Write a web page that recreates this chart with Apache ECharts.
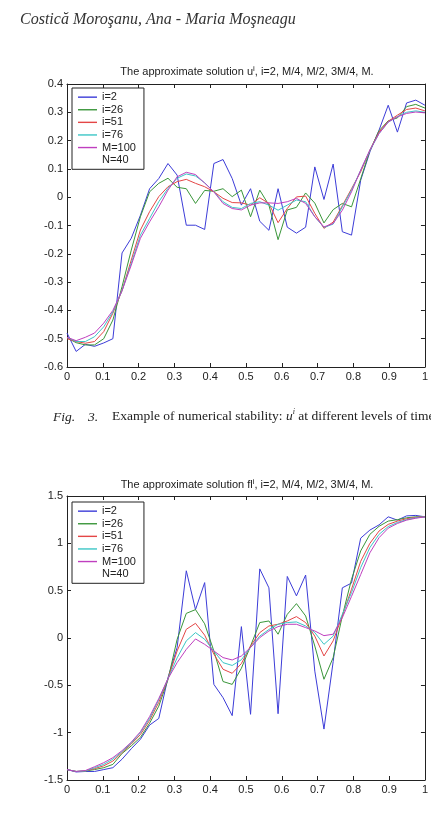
<!DOCTYPE html>
<html><head><meta charset="utf-8">
<script src="https://cdn.jsdelivr.net/npm/echarts@6/dist/echarts.min.js"></script>
<style>html,body{margin:0;padding:0;background:#fff}#c{width:431px;height:821px}</style>
</head><body><div id="c"></div>
<script>
// mesh nodes (N = 40 nodes on [0,1])
const xNodes = [0, 0.0256, 0.0513, 0.0769, 0.1026, 0.1282, 0.1538, 0.1795, 0.2051, 0.2308,
  0.2564, 0.2821, 0.3077, 0.3333, 0.359, 0.3846, 0.4103, 0.4359, 0.4615, 0.4872,
  0.5128, 0.5385, 0.5641, 0.5897, 0.6154, 0.641, 0.6667, 0.6923, 0.7179, 0.7436,
  0.7692, 0.7949, 0.8205, 0.8462, 0.8718, 0.8974, 0.9231, 0.9487, 0.9744, 1];
const seriesNames = ['i=2', 'i=26', 'i=51', 'i=76', 'M=100'];
const legendExtra = 'N=40';
const titleTop = 'The approximate solution u{s|i}, i=2, M/4, M/2, 3M/4, M.';
const titleBottom = 'The approximate solution fl{s|i}, i=2, M/4, M/2, 3M/4, M.';
const headerText = 'Costică Moroşanu, Ana - Maria Moşneagu';

// chart 1: u^i
const uI2 = [-0.48, -0.545, -0.52, -0.527, -0.515, -0.50, -0.197, -0.145, -0.064, 0.03,
  0.066, 0.119, 0.078, -0.099, -0.099, -0.114, 0.119, 0.133, 0.066, -0.028,
  0.03, -0.085, -0.117, 0.03, -0.106, -0.127, -0.106, 0.107, -0.008, 0.117,
  -0.122, -0.134, 0.06, 0.16, 0.237, 0.325, 0.23, 0.333, 0.343, 0.325];
const uI26 = [-0.497, -0.514, -0.522, -0.522, -0.50, -0.434, -0.316, -0.187, -0.069, 0.019,
  0.049, 0.067, 0.035, 0.03, -0.022, 0.024, 0.021, 0.03, 0.002, 0.025,
  -0.069, 0.025, -0.028, -0.15, -0.045, -0.036, 0.015, -0.021, -0.091, -0.044,
  -0.022, -0.034, 0.065, 0.165, 0.235, 0.27, 0.28, 0.32, 0.328, 0.315];
const uI51 = [-0.5, -0.51, -0.516, -0.51, -0.475, -0.41, -0.33, -0.222, -0.116, -0.051,
  0.002, 0.037, 0.055, 0.063, 0.049, 0.037, 0.019, -0.004, -0.019, -0.02,
  -0.028, -0.002, -0.022, -0.09, -0.04, 0.001, 0.004, -0.057, -0.11, -0.088,
  -0.03, 0.03, 0.09, 0.165, 0.23, 0.268, 0.29, 0.31, 0.315, 0.305];
const uI76 = [-0.495, -0.51, -0.51, -0.493, -0.458, -0.405, -0.33, -0.233, -0.134, -0.075,
  -0.016, 0.031, 0.067, 0.082, 0.075, 0.051, 0.019, -0.016, -0.036, -0.04,
  -0.022, -0.016, -0.028, -0.046, -0.028, -0.01, -0.016, -0.069, -0.107, -0.095,
  -0.034, 0.025, 0.095, 0.165, 0.225, 0.265, 0.285, 0.3, 0.305, 0.3];
const uM100 = [-0.495, -0.507, -0.495, -0.48, -0.445, -0.4, -0.33, -0.24, -0.145, -0.087,
  -0.034, 0.025, 0.072, 0.088, 0.08, 0.05, 0.019, -0.022, -0.04, -0.045,
  -0.028, -0.02, -0.02, -0.022, -0.016, -0.004, -0.022, -0.069, -0.105, -0.093,
  -0.046, 0.019, 0.096, 0.167, 0.225, 0.266, 0.284, 0.296, 0.301, 0.298];

// chart 2: fl^i
const flI2 = [-1.39, -1.415, -1.41, -1.41, -1.39, -1.37, -1.28, -1.17, -1.07, -0.92,
  -0.85, -0.42, -0.1, 0.71, 0.30, 0.585, -0.49, -0.63, -0.82, 0.12,
  -0.806, 0.73, 0.53, -0.8, 0.65, 0.445, 0.665, -0.35, -0.962, -0.25,
  0.53, 0.58, 1.055, 1.14, 1.195, 1.28, 1.245, 1.29, 1.295, 1.28];
const flI26 = [-1.39, -1.41, -1.405, -1.39, -1.37, -1.335, -1.22, -1.14, -1.05, -0.9,
  -0.72, -0.44, -0.014, 0.26, 0.30, 0.15, -0.137, -0.46, -0.49, -0.32,
  -0.085, 0.163, 0.18, 0.04, 0.25, 0.363, 0.233, -0.085, -0.436, -0.207,
  0.233, 0.62, 0.92, 1.095, 1.18, 1.235, 1.25, 1.27, 1.28, 1.28];
const flI51 = [-1.39, -1.41, -1.405, -1.38, -1.35, -1.3, -1.21, -1.12, -1.02, -0.87,
  -0.68, -0.43, -0.137, 0.092, 0.155, 0.03, -0.17, -0.33, -0.373, -0.27,
  -0.085, 0.057, 0.127, 0.145, 0.18, 0.226, 0.163, 0.02, -0.19, -0.03,
  0.233, 0.515, 0.81, 1.0, 1.13, 1.2, 1.235, 1.26, 1.275, 1.28];
const flI76 = [-1.39, -1.41, -1.405, -1.37, -1.335, -1.28, -1.2, -1.11, -1.0, -0.85,
  -0.65, -0.43, -0.21, -0.03, 0.057, -0.014, -0.137, -0.26, -0.29, -0.23,
  -0.1, 0.02, 0.09, 0.145, 0.163, 0.17, 0.127, 0.057, -0.067, 0.02,
  0.25, 0.48, 0.744, 0.955, 1.095, 1.177, 1.22, 1.25, 1.27, 1.28];
const flM100 = [-1.39, -1.41, -1.40, -1.36, -1.317, -1.264, -1.19, -1.10, -0.99, -0.83,
  -0.64, -0.43, -0.26, -0.12, -0.01, -0.067, -0.137, -0.207, -0.232, -0.19,
  -0.1, 0.004, 0.074, 0.12, 0.145, 0.145, 0.11, 0.074, 0.025, 0.04,
  0.215, 0.44, 0.67, 0.9, 1.06, 1.16, 1.21, 1.245, 1.265, 1.28];

const colors = ['#3c3cd8', '#3a963a', '#e44646', '#3cc6c6', '#bf3fbf'];
const FONT = 'Liberation Sans';
const chart = echarts.init(document.getElementById('c'), null, {renderer: 'canvas'});

const topData = [uI2, uI26, uI51, uI76, uM100];
const botData = [flI2, flI26, flI51, flI76, flM100];

function xAxes(grid) {
  const base = {gridIndex: grid, type: 'value', min: 0, max: 1, interval: 0.1,
    axisLine: {onZero: false, lineStyle: {color: '#222', width: 1}},
    axisTick: {inside: true, length: 4, lineStyle: {color: '#222'}},
    splitLine: {show: false}};
  return [
    Object.assign({}, base, {position: 'bottom', axisLabel: {color: '#222', fontSize: 11, fontFamily: FONT, margin: 4}}),
    Object.assign({}, base, {position: 'top', axisLabel: {show: false}})
  ];
}
function yAxes(grid, min, max, interval) {
  const base = {gridIndex: grid, type: 'value', min: min, max: max, interval: interval,
    axisLine: {show: true, onZero: false, lineStyle: {color: '#222', width: 1}},
    axisTick: {show: true, inside: true, length: 4, lineStyle: {color: '#222'}},
    splitLine: {show: false}};
  return [
    Object.assign({}, base, {position: 'left', axisLabel: {color: '#222', fontSize: 11, fontFamily: FONT, margin: 4}}),
    Object.assign({}, base, {position: 'right', axisLabel: {show: false}})
  ];
}

const series = [];
function addSeries(dataSets, axisIdx) {
  dataSets.forEach((arr, k) => {
    series.push({
      name: seriesNames[k], type: 'line', xAxisIndex: axisIdx, yAxisIndex: axisIdx,
      data: xNodes.map((x, j) => [x, arr[j]]),
      symbol: 'none', showSymbol: false, silent: true,
      lineStyle: {color: colors[k], width: 1}, itemStyle: {color: colors[k]}
    });
  });
  series.push({name: legendExtra, type: 'line', xAxisIndex: axisIdx, yAxisIndex: axisIdx,
    data: [], symbol: 'none', lineStyle: {color: 'rgba(0,0,0,0)', width: 1},
    itemStyle: {color: 'rgba(0,0,0,0)'}});
}
addSeries(topData, 0);
addSeries(botData, 2);

function legend(top) {
  return {
    orient: 'vertical', left: 72, top: top, padding: [3, 8, 3, 6],
    itemWidth: 19, itemHeight: 1.4, itemGap: 0.3, icon: 'rect',
    borderColor: '#222', borderWidth: 1, backgroundColor: '#fff',
    selectedMode: false,
    textStyle: {fontSize: 11, color: '#222', fontFamily: FONT, lineHeight: 12.3},
    data: seriesNames.map((n, k) => ({name: n, itemStyle: {color: colors[k]}})).concat([{name: legendExtra,
      itemStyle: {opacity: 0, color: 'rgba(0,0,0,0)'}}])
  };
}

const titleStyle = {fontSize: 11, fontWeight: 'normal', color: '#222', fontFamily: FONT,
  lineHeight: 14, rich: {s: {fontSize: 8, fontFamily: FONT, color: '#222', verticalAlign: 'top', lineHeight: 14}}};

chart.setOption({
  animation: false,
  backgroundColor: '#fff',
  title: [
    {text: titleTop, left: 247, top: 65, textAlign: 'center', padding: 0, textStyle: titleStyle},
    {text: titleBottom, left: 247, top: 478, textAlign: 'center', padding: 0, textStyle: titleStyle}
  ],
  grid: [
    {left: 67, top: 84, width: 360, height: 283},
    {left: 67, top: 496, width: 360, height: 284}
  ],
  xAxis: xAxes(0).concat(xAxes(1)),
  yAxis: yAxes(0, -0.6, 0.4, 0.1).concat(yAxes(1, -1.5, 1.5, 0.5)),
  legend: [legend(88), legend(502)],
  series: series,
  graphic: [
    {type: 'text', left: 20, top: 12, style: {text: headerText, fontFamily: 'Liberation Serif',
      fontStyle: 'italic', fontSize: 16, fill: '#333'}},
    {type: 'text', left: 53, top: 410, style: {text: 'Fig.', fontFamily: 'Liberation Serif',
      fontStyle: 'italic', fontSize: 13.5, fill: '#222'}},
    {type: 'text', left: 88, top: 410, style: {text: '3.', fontFamily: 'Liberation Serif',
      fontStyle: 'italic', fontSize: 13.5, fill: '#222'}},
    {type: 'text', left: 112, top: 408, style: {
      text: 'Example of numerical stability: {u|u}{s|i} at different levels of time',
      fontFamily: 'Liberation Serif', fontSize: 13.5, fill: '#222', lineHeight: 17,
      rich: {u: {fontFamily: 'Liberation Serif', fontStyle: 'italic', fontSize: 13.5, lineHeight: 17},
             s: {fontFamily: 'Liberation Serif', fontStyle: 'italic', fontSize: 8, verticalAlign: 'top', lineHeight: 17}}}}
  ]
});
</script></body></html>
